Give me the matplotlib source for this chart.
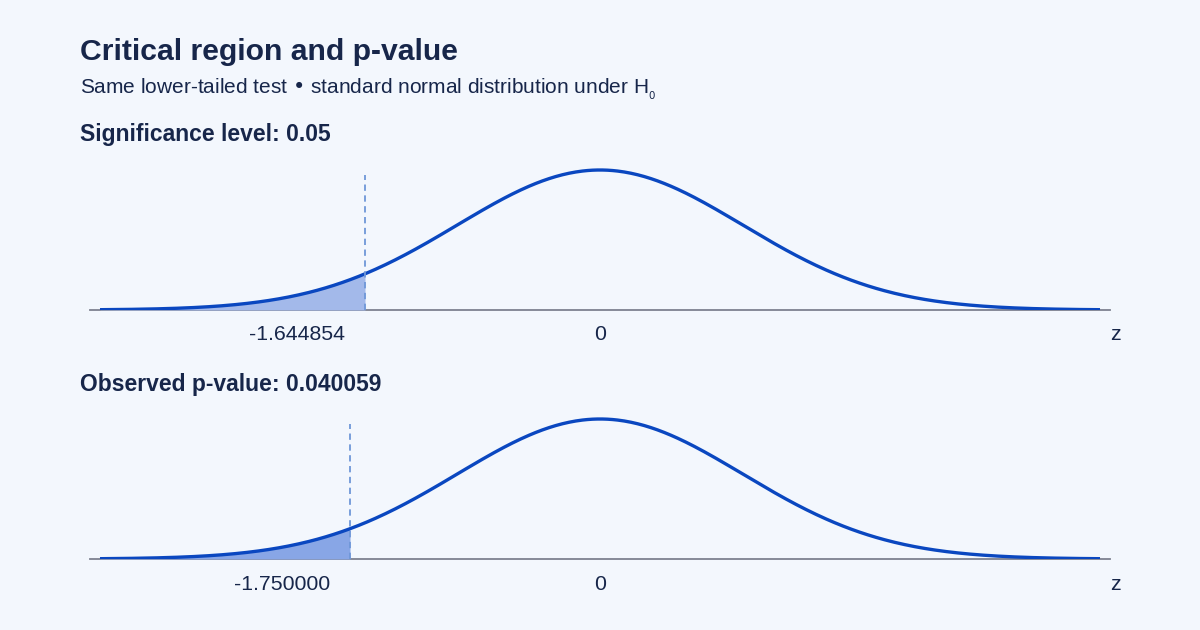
import numpy as np
import matplotlib
matplotlib.use("Agg")
import matplotlib.pyplot as plt

plt.rcParams['font.family'] = ['Liberation Sans', 'DejaVu Sans']

# datos
z_min, z_max = -3.5, 3.5
panel_titles = ["Significance level: 0.05", "Observed p-value: 0.040059"]
cutoffs = [-1.644854, -1.75]
cutoff_labels = ["-1.644854", "-1.750000"]
fill_colors = ["#a3b9ea", "#88a6e6"]

bg = "#f3f7fd"
navy = "#17264a"
curve_col = "#0a47c0"
dash_col = "#6f97d8"
axis_col = "#7d8190"

fig = plt.figure(figsize=(12, 6.3), dpi=100, facecolor=bg)

fig.text(80 / 1200, 1 - 52 / 630, "Critical region and p-value", fontsize=21.7,
         fontweight="bold", color=navy, va="center", ha="left")
fig.text(80 / 1200, 1 - 89 / 630,
         "Same lower-tailed test \u2022 standard normal distribution under H$_{_0}$",
         fontsize=15, color=navy, va="center", ha="left")

z = np.linspace(z_min, z_max, 600)
pdf = np.exp(-z ** 2 / 2) / np.sqrt(2 * np.pi)
peak = pdf.max()

# posiciones de los paneles en pixeles (titulo, linea base)
paneles = [(134, 310), (385, 559)]

for i, (ty, base) in enumerate(paneles):
    fig.text(80 / 1200, 1 - ty / 630, panel_titles[i], fontsize=16.5,
             fontweight="bold", color=navy, va="center", ha="left")
    alto = 140 * 0.42 / peak
    ax = fig.add_axes([90 / 1200, (630 - base) / 630, 1020 / 1200, alto / 630])
    ax.set_facecolor("none")
    ax.set_xlim(-3.57, 3.57)
    ax.set_ylim(0, 0.42)
    for s in ax.spines.values():
        s.set_visible(False)
    ax.set_xticks([])
    ax.set_yticks([])
    ax.axhline(0, color=axis_col, lw=1.3, clip_on=False, zorder=1)

    c = cutoffs[i]
    m = z <= c
    zz = np.append(z[m], c)
    pp = np.exp(-zz ** 2 / 2) / np.sqrt(2 * np.pi)
    ax.fill_between(zz, 0, pp, color=fill_colors[i], lw=0, zorder=2)
    ax.plot(z, pdf, color=curve_col, lw=2.4, zorder=3, solid_capstyle="butt")
    ax.plot([c, c], [0, peak * 135 / 140], color=dash_col, lw=1.3,
            ls=(0, (3.5, 2.5)), zorder=4, clip_on=False)

    ax.annotate(cutoff_labels[i], xy=(c, 0), xytext=(-20, -25),
                textcoords="offset pixels", ha="right", va="center",
                fontsize=15.3, color=navy, annotation_clip=False)
    ax.annotate("0", xy=(0, 0), xytext=(0, -25), textcoords="offset pixels",
                ha="center", va="center", fontsize=15.3, color=navy)
    ax.annotate("z", xy=(3.57, 0), xytext=(5, -25), textcoords="offset pixels",
                ha="center", va="center", fontsize=15.3, color=navy,
                annotation_clip=False)

fig.savefig("out.png", dpi=100, facecolor=bg)
